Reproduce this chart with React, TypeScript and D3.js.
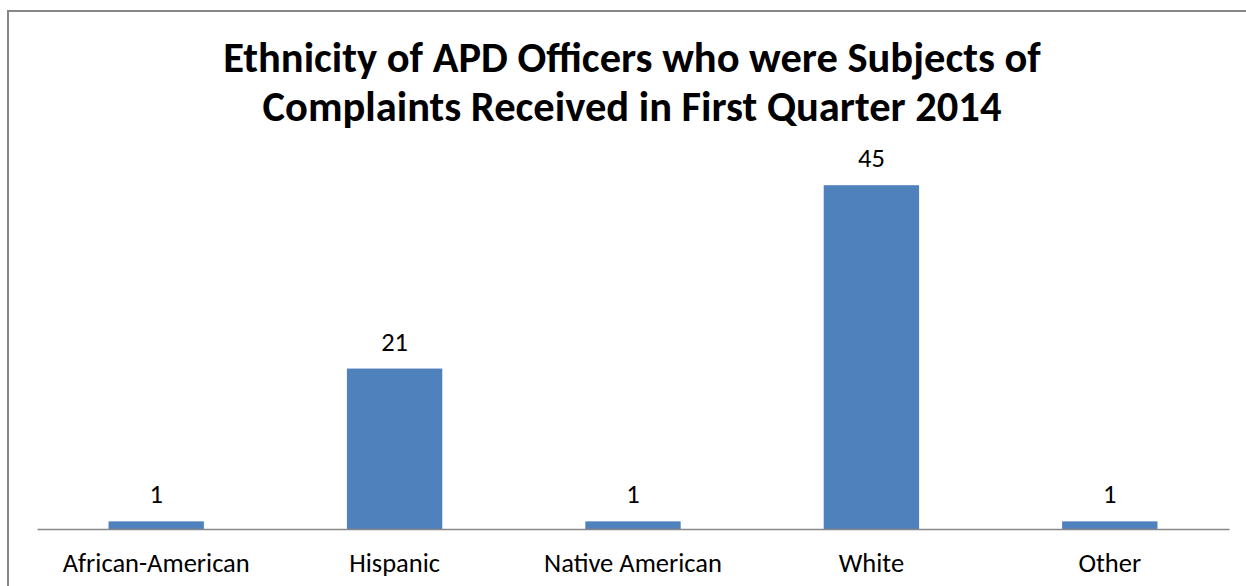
import { useRef, useEffect } from 'react';
import * as d3 from 'd3';

const categories = ['African-American', 'Hispanic', 'Native American', 'White', 'Other'];
const values = [1, 21, 1, 45, 1];
const titleLines = [
  'Ethnicity of APD Officers who were Subjects of',
  'Complaints Received in First Quarter 2014',
];

const WIDTH = 1246;
const HEIGHT = 586;
const PLOT = { left: 37, right: 1229, top: 147, bottom: 529 };
const FONT = 'Carlito, Calibri, Lato, sans-serif';

export default function App() {
  const svgRef = useRef<SVGSVGElement>(null);

  useEffect(() => {
    if (!svgRef.current) return;
    const svg = d3.select(svgRef.current);
    svg.selectAll('*').remove();

    const x = d3.scaleBand()
      .domain(categories)
      .range([PLOT.left, PLOT.right])
      .paddingInner(0.6)
      .paddingOuter(0.3);

    const y = d3.scaleLinear()
      .domain([0, 50])
      .range([PLOT.bottom, PLOT.top]);

    // chart border
    svg.append('rect')
      .attr('x', 8)
      .attr('y', 11)
      .attr('width', WIDTH + 20)
      .attr('height', HEIGHT + 20)
      .attr('fill', 'white')
      .attr('stroke', '#878787')
      .attr('stroke-width', 2);

    // title
    svg.append('text')
      .attr('x', 632)
      .attr('text-anchor', 'middle')
      .style('font-family', FONT)
      .style('font-weight', 'bold')
      .style('font-size', '42.5px')
      .attr('fill', '#000')
      .selectAll('tspan')
      .data(titleLines)
      .enter()
      .append('tspan')
      .attr('x', 632)
      .attr('y', (_, i) => 72 + i * 49)
      .text((d) => d);

    // bars
    svg.selectAll('.bar')
      .data(values)
      .enter()
      .append('rect')
      .attr('class', 'bar')
      .attr('x', (_, i) => x(categories[i]) ?? 0)
      .attr('y', (d) => y(d))
      .attr('width', x.bandwidth())
      .attr('height', (d) => PLOT.bottom - y(d))
      .attr('fill', '#4f81bd');

    // value labels
    svg.selectAll('.val')
      .data(values)
      .enter()
      .append('text')
      .attr('class', 'val')
      .attr('x', (_, i) => (x(categories[i]) ?? 0) + x.bandwidth() / 2)
      .attr('y', (d) => y(d) - 18)
      .attr('text-anchor', 'middle')
      .style('font-family', FONT)
      .style('font-size', '26.5px')
      .attr('fill', '#000')
      .text((d) => d);

    // x axis
    const xAxis = svg.append('g')
      .attr('transform', `translate(0,${PLOT.bottom})`)
      .call(d3.axisBottom(x).tickSize(0).tickSizeOuter(0).tickPadding(24));

    xAxis.select('.domain')
      .attr('stroke', '#888')
      .attr('stroke-width', 1.5);

    xAxis.selectAll('text')
      .style('font-family', FONT)
      .style('font-size', '26.5px')
      .attr('fill', '#000');
  }, []);

  return (
    <svg
      ref={svgRef}
      width={WIDTH}
      height={HEIGHT}
      style={{ position: 'absolute', left: 0, top: 0, background: 'white' }}
    />
  );
}
